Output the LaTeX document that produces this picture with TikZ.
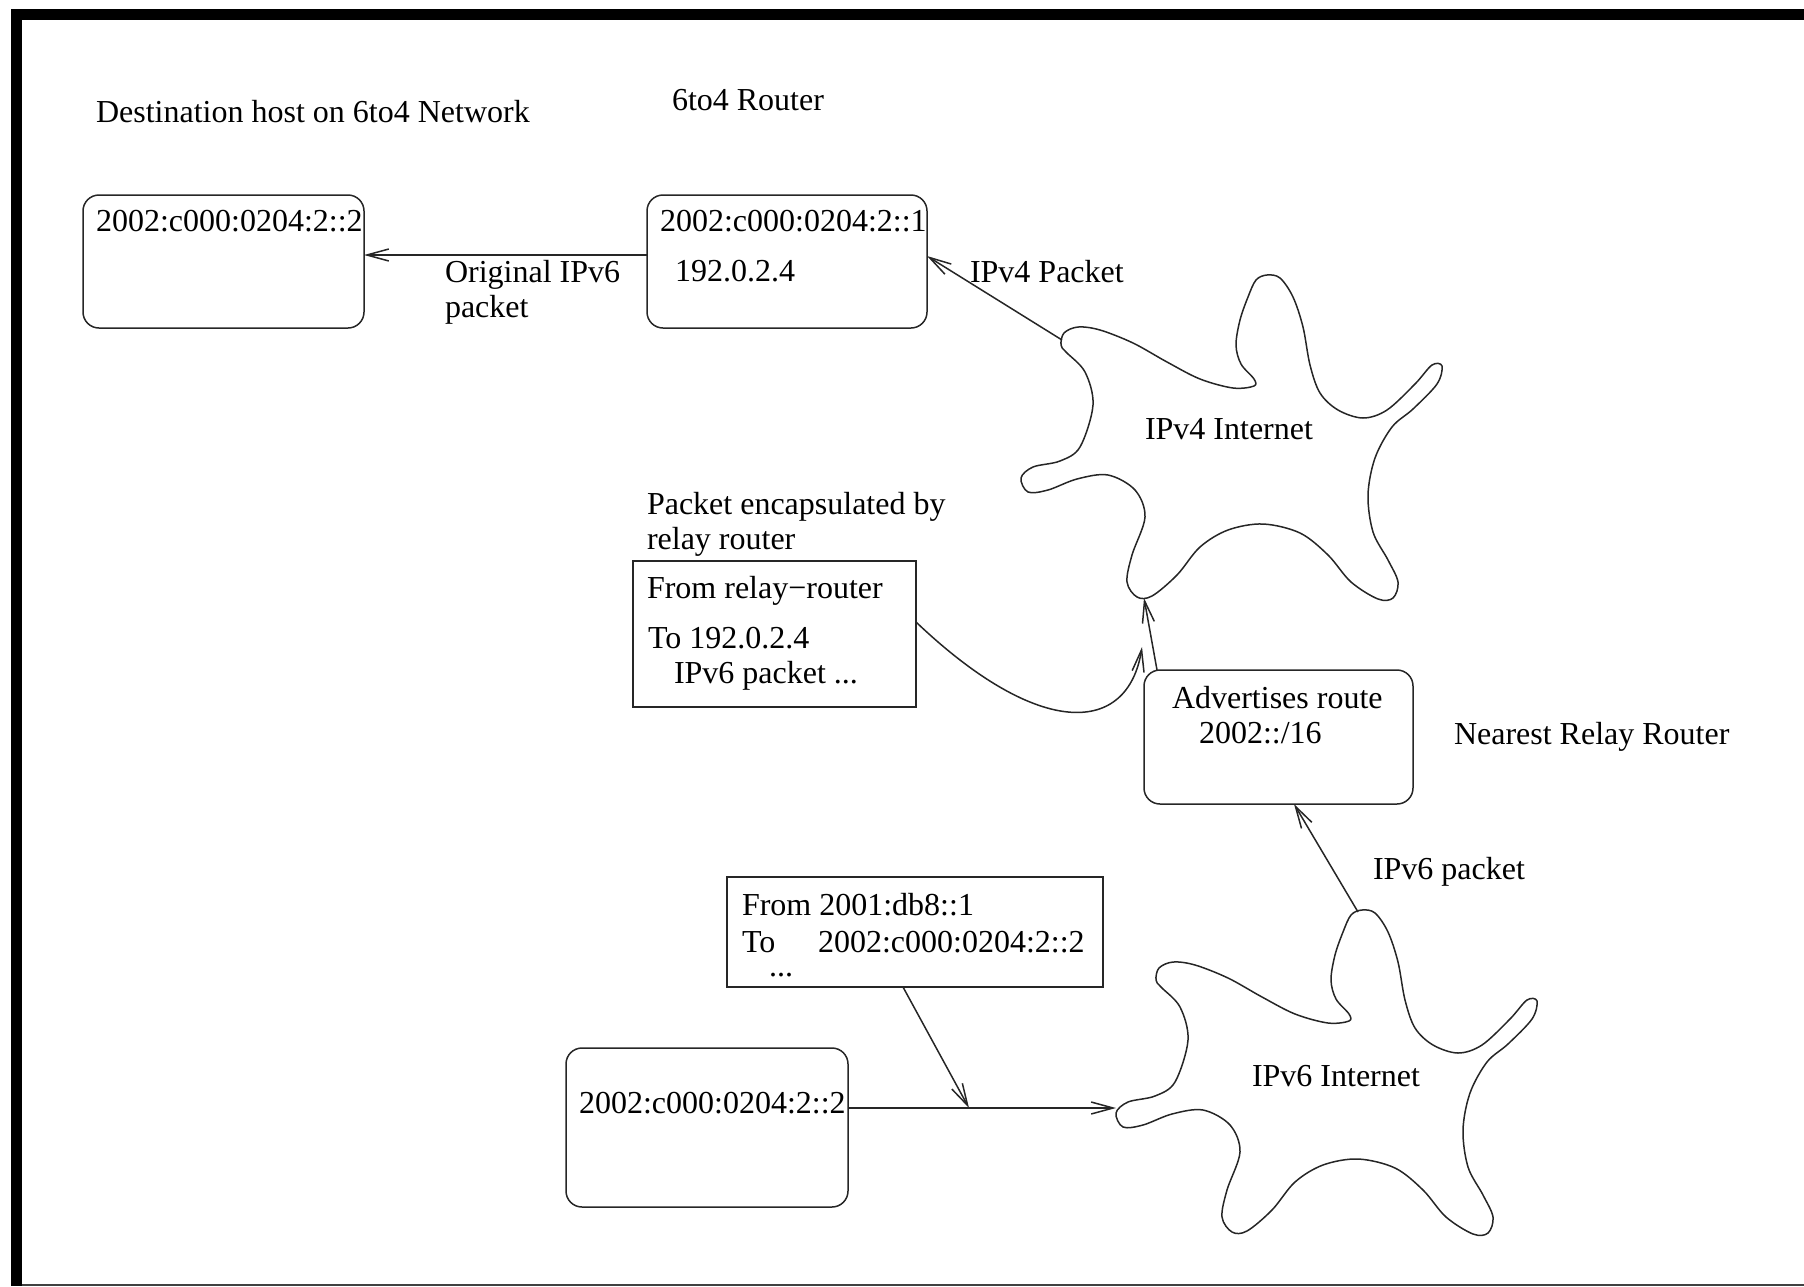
\documentclass[tikz,border=0pt]{standalone}
\usepackage{fontspec}
\setmainfont{Liberation Serif}
\usetikzlibrary{arrows.meta}
\begin{document}
\begin{tikzpicture}[x=1pt,y=-1pt,
  ln/.style={line width=1.5pt, draw=black!85},
  arr/.style={ln, -{Straight Barb[length=22pt,width=12pt]}},
  rbox/.style={ln, rounded corners=16pt, inner sep=0pt, outer sep=0pt},
  sbox/.style={ln, inner sep=0pt, outer sep=0pt},
  txt/.style={anchor=base west, inner sep=0pt, outer sep=0pt, font=\fontsize{32}{38}\selectfont},
  cloudline/.style={ln, line join=round}]
\useasboundingbox (0,0) rectangle (1804,1286);
% frame
\fill[black] (11,9) rectangle (1804,20);
\fill[black] (11,9) rectangle (22,1286);
\draw[line width=1.5pt, black!75] (22,1285) -- (1804,1285);

% boxes
\node[rbox, minimum width=281pt, minimum height=133pt] (hostA) at (223.5,261.5) {};
\node[rbox, minimum width=280pt, minimum height=133pt] (router) at (787,261.5) {};
\node[rbox, minimum width=269pt, minimum height=134pt] (relay) at (1278.5,737) {};
\node[sbox, minimum width=283pt, minimum height=146pt] (encap) at (774.5,634) {};
\node[sbox, minimum width=376pt, minimum height=110pt] (pkt) at (915,932) {};
\node[rbox, minimum width=282pt, minimum height=159pt] (hostF) at (707,1127.5) {};

% clouds
\def\cloudpts{(1061,345) (1064,333) (1078,327) (1100,330) (1133,343) (1167,362) (1200,379) (1233,388) (1254,386) (1254,379) (1241,364) (1236,345) (1240,320) (1248,297) (1256,280) (1267,275) (1280,278) (1293,297) (1303,327) (1310,365) (1320,393) (1338,410) (1363,418) (1387,410) (1415,384) (1432,365) (1442,366) (1437,384) (1413,409) (1392,427) (1375,458) (1368,495) (1373,532) (1388,560) (1398,582) (1393,598) (1378,599) (1351,582) (1328,555) (1300,533) (1263,524) (1228,530) (1200,547) (1177,575) (1152,596) (1137,597) (1127,582) (1132,555) (1145,517) (1135,490) (1108,475) (1077,479) (1048,490) (1028,492) (1021,478) (1033,467) (1060,461) (1080,447) (1093,405) (1085,372) (1066,352)}
\draw[cloudline] plot[smooth cycle, tension=0.55] coordinates {\cloudpts};
\begin{scope}[shift={(95,635)}]
\draw[cloudline] plot[smooth cycle, tension=0.55] coordinates {\cloudpts};
\end{scope}

% attachment coordinates
\coordinate (c4a) at (1062,340);
\coordinate (c4b) at (1144,598);
\coordinate (c6a) at (1358,912);
\coordinate (c6b) at (1116,1108);
\coordinate (yAB) at (0,255);
\coordinate (yB) at (0,256);
\coordinate (xC1) at (1157,0);
\coordinate (xC2) at (1294,0);
\coordinate (yD) at (0,622);
\coordinate (xE) at (903,0);
\coordinate (yF) at (0,1108);
\coordinate (curveEnd) at (1142,647);
\coordinate (join) at (969,1108);

% connectors
\draw[arr] (router.west |- yAB) -- (hostA.east |- yAB);
\draw[arr] (c4a) -- (router.east |- yB);
\draw[arr] (relay.north -| xC1) -- (c4b);
\draw[arr] (encap.east |- yD) .. controls (1040,740) and (1128,735) .. (curveEnd);
\draw[arr] (c6a) -- (relay.south -| xC2);
\draw[arr] (hostF.east |- yF) -- (c6b);
\draw[arr] (pkt.south -| xE) -- (join);

% texts
\node[txt] (t1) at (96,122.5) {Destination host on 6to4 Network};
\node[txt] (t2) at (672,110.5) {6to4 Router};
\node[txt] (t3) at (96,231.5) {2002:c000:0204:2::2};
\node[txt] (t4) at (660,231.5) {2002:c000:0204:2::1};
\node[txt] (t5) at (675,281.5) {192.0.2.4};
\node[txt] (t6) at (445,282.5) {Original IPv6};
\node[txt] (t7) at (445,317) {packet};
\node[txt] (t8) at (970,282.5) {IPv4 Packet};
\node[txt] (t9) at (1145,439) {IPv4 Internet};
\node[txt] (t10) at (647,514.5) {Packet encapsulated by};
\node[txt] (t11) at (647,549) {relay router};
\node[txt] (t12) at (647,598.5) {From relay−router};
\node[txt] (t13) at (648,648.5) {To 192.0.2.4};
\node[txt] (t14) at (674,683.5) {IPv6 packet ...};
\node[txt] (t15) at (1172,708.5) {Advertises route};
\node[txt] (t16) at (1199,743.5) {2002::/16};
\node[txt] (t17) at (1454,744) {Nearest Relay Router};
\node[txt] (t18) at (1373,879) {IPv6 packet};
\node[txt] (t19) at (742,915.5) {From 2001:db8::1};
\node[txt] (t20) at (742,952.5) {To};
\node[txt] (t21) at (818,952.5) {2002:c000:0204:2::2};
\node[txt] (t22) at (769,976.5) {...};
\node[txt] (t23) at (579,1113.5) {2002:c000:0204:2::2};
\node[txt] (t24) at (1252,1086) {IPv6 Internet};
\end{tikzpicture}
\end{document}
